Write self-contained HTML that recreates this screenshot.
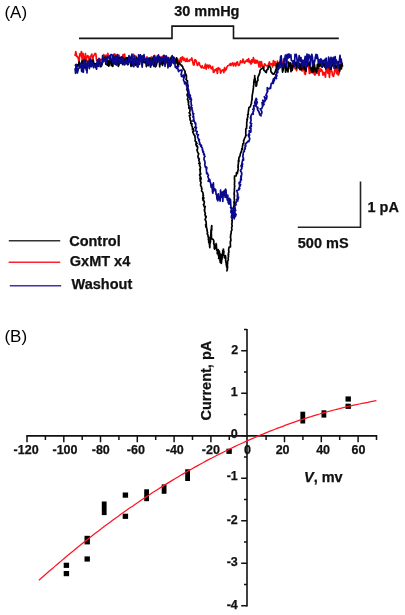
<!DOCTYPE html>
<html><head><meta charset="utf-8"><style>html,body{margin:0;padding:0;background:#fff;}svg{display:block;will-change:transform;}</style></head>
<body><svg width="405" height="615" viewBox="0 0 405 615">
<rect width="405" height="615" fill="#fff"/>
<g font-family="'Liberation Sans', sans-serif">
<text x="4.4" y="17.7" font-size="17">(A)</text>
<text x="4.4" y="341.6" font-size="17">(B)</text>
<g font-weight="bold" font-size="14.5" fill="#111" stroke="#111" stroke-width="0.25">
<text x="174.2" y="15.8">30 mmHg</text>
<text x="367.5" y="212.4">1 pA</text>
<text x="297.8" y="248.4">500 mS</text>
<text x="69.2" y="245.7">Control</text>
<text x="69.8" y="266">GxMT x4</text>
<text x="71.6" y="288.9">Washout</text>
<text x="304" y="481.7"><tspan font-style="italic">V</tspan>, mv</text>
<text transform="translate(211.3 420.5) rotate(-90)">Current, pA</text>
</g>
</g>
<path d="M79 38.4 H172 V26.1 H233.5 V38.4 H338.8" fill="none" stroke="#151515" stroke-width="1.6"/>
<path d="M360.5 181.5 V227.3 H297.8" fill="none" stroke="#222" stroke-width="1.6"/>
<path d="M8.8 240.8 H60.2" stroke="#333" stroke-width="1.4"/>
<path d="M8.6 262.3 H60.2" stroke="#ff2030" stroke-width="1.4"/>
<path d="M9.8 285.8 H61.2" stroke="#3c32aa" stroke-width="1.6"/>
<path d="M75 56 L75.8 51.6 L76.6 56.5 L77.4 56.3 L78.2 58.2 L79 62.1 L79.8 53.9 L80.6 55.8 L81.4 51.5 L82.2 60.1 L83 53.3 L83.8 60.4 L84.6 60.1 L85.4 53.6 L86.2 61.3 L87 56.5 L87.8 55.6 L88.6 57.2 L89.4 61.9 L90.2 56.4 L91 56.3 L91.8 54 L92.6 60.5 L93.4 56.5 L94.2 54.8 L95 53.4 L95.8 53.8 L96.6 60.4 L97.4 60.1 L98.2 61.8 L99 61.2 L99.8 59.1 L100.6 60.2 L101.4 59.4 L102.2 60.3 L103 60.2 L103.8 54.6 L104.6 60.3 L105.4 55.8 L106.2 55.2 L107 61.2 L107.8 53.3 L108.6 57.6 L109.4 56.1 L110.2 60.1 L111 58.5 L111.8 61.1 L112.6 61.3 L113.4 58.8 L114.2 53.9 L115 59.1 L115.8 54.3 L116.6 61.8 L117.4 60.9 L118.2 56.1 L119 55.1 L119.8 59.4 L120.6 59.9 L121.4 61.9 L122.2 58.8 L123 54.7 L123.8 59.7 L124.6 54.2 L125.4 60.9 L126.2 60.1 L127 60.3 L127.8 61 L128.6 58.5 L129.4 61.6 L130.2 59.1 L131 58 L131.8 57.1 L132.6 56.9 L133.4 54.2 L134.2 55.4 L135 60.5 L135.8 56 L136.6 59.4 L137.4 60.4 L138.2 59.8 L139 58.4 L139.8 56.8 L140.6 56.5 L141.4 55.8 L142.2 59.5 L143 59.8 L143.8 61.8 L144.6 57 L145.4 61.7 L146.2 61.6 L147 56.8 L147.8 61.9 L148.6 59.4 L149.4 62 L150.2 60.6 L151 57.3 L151.8 57 L152.6 58.9 L153.4 58.7 L154.2 55.3 L155 61.6 L155.8 59.2 L156.6 58.8 L157.4 60.9 L158.2 57.3 L159 57 L159.8 59.9 L160.6 57.4 L161.4 58.1 L162.2 56.3 L163 56.3 L163.8 58.5 L164.6 59.9 L165.4 63 L166.2 60.8 L167 59.2 L167.8 59.3 L168.6 58.1 L169.4 59.9 L170.2 63.4 L171 57.5 L171.8 59.8 L172.6 61.6 L173.4 62.2 L174.2 60.8 L175 61.5 L175.8 63.5 L176.6 63.2 L177.4 58.6 L178.2 60.6 L179 63.7 L179.8 60.4 L180.6 57.9 L181.4 61.9 L182.2 56.9 L183 57.5 L183.8 60.3 L184.6 58.3 L185.4 61.3 L186.2 61.3 L187 58.4 L187.8 61.5 L188.6 60.6 L189.4 61 L190.2 59.4 L191 59.8 L191.8 58 L192.6 61 L193.4 64.9 L194.2 64.9 L195 59.6 L195.8 60.1 L196.6 62 L197.4 65.5 L198.2 64.2 L199 62.5 L199.8 65.1 L200.6 66.4 L201.4 67.8 L202.2 65.7 L203 67.7 L203.8 68.1 L204.6 67.9 L205.4 64.2 L206.2 69.1 L207 65.2 L207.8 65 L208.6 68.1 L209.4 65.2 L210.2 65.8 L211 68.2 L211.8 68.8 L212.6 66.5 L213.4 72.5 L214.2 72 L215 69.6 L215.8 70.4 L216.6 68.7 L217.4 73.5 L218.2 67.6 L219 69 L219.8 68.6 L220.6 73.2 L221.4 70.9 L222.2 70.3 L223 69.8 L223.8 72.6 L224.6 67.5 L225.4 70.6 L226.2 69.4 L227 66.9 L227.8 65.7 L228.6 65.5 L229.4 65 L230.2 63.6 L231 65.5 L231.8 63.8 L232.6 62.8 L233.4 65.9 L234.2 63.4 L235 63.3 L235.8 65.9 L236.6 62.6 L237.4 61.8 L238.2 65.1 L239 65.4 L239.8 63.8 L240.6 60.8 L241.4 62.4 L242.2 62.6 L243 59.2 L243.8 61.9 L244.6 63.2 L245.4 61.2 L246.2 61.4 L247 59.8 L247.8 61.5 L248.6 58.6 L249.4 62.5 L250.2 61 L251 64.1 L251.8 59.8 L252.6 62.5 L253.4 57.7 L254.2 60.6 L255 63.2 L255.8 60 L256.6 62.9 L257.4 60.6 L258.2 62.3 L259 66.9 L259.8 61.7 L260.6 67.1 L261.4 61.6 L262.2 65.5 L263 67.1 L263.8 67 L264.6 63.8 L265.4 65 L266.2 65.7 L267 65.9 L267.8 65.6 L268.6 64.3 L269.4 61.9 L270.2 64.9 L271 63.9 L271.8 63.7 L272.6 67 L273.4 60.5 L274.2 65.4 L275 61.7 L275.8 64.9 L276.6 66.8 L277.4 61.1 L278.2 63.5 L279 63.1 L279.8 62.8 L280.6 59.4 L281.4 63.2 L282.2 65.3 L283 62.7 L283.8 58.6 L284.6 63.3 L285.4 59.5 L286.2 57.4 L287 62.7 L287.8 61.8 L288.6 63.2 L289.4 68.5 L290.2 64.8 L291 69.1 L291.8 63.4 L292.6 68 L293.4 61.3 L294.2 64 L295 68.5 L295.8 68.9 L296.6 70.7 L297.4 66.5 L298.2 65.7 L299 67 L299.8 69.3 L300.6 64.1 L301.4 67.9 L302.2 71 L303 65.7 L303.8 67.5 L304.6 73.6 L305.4 74.4 L306.2 67.1 L307 66.5 L307.8 65.9 L308.6 65.7 L309.4 73.4 L310.2 73 L311 67.9 L311.8 70.5 L312.6 72.8 L313.4 65.6 L314.2 74.4 L315 75 L315.8 67.9 L316.6 73.4 L317.4 73.4 L318.2 69.4 L319 75.5 L319.8 68.2 L320.6 71.1 L321.4 69.3 L322.2 70.8 L323 75.1 L323.8 72.4 L324.6 72.9 L325.4 77.2 L326.2 68.6 L327 68.6 L327.8 73.2 L328.6 67.9 L329.4 77.3 L330.2 70.1 L331 71.2 L331.8 71 L332.6 75.5 L333.4 76.4 L334.2 73.5 L335 67.5 L335.8 69.6 L336.6 73.6 L337.4 67.7 L338.2 75.2 L339 73.8 L339.8 64.9 L340.6 65.2 L341.4 62.3 L342.2 66.9" fill="none" stroke="#ff0a0a" stroke-width="1.7" stroke-linejoin="round"/><path d="M75 64.5 L75.7 65.6 L76.4 69.2 L77.1 64.7 L77.8 65.1 L78.5 65.9 L79.2 61.8 L79.9 65.1 L80.6 66.3 L81.3 67.9 L82 60.9 L82.7 63 L83.4 60.9 L84.1 68.1 L84.8 67 L85.5 60.4 L86.2 69.9 L86.9 69.7 L87.6 66.6 L88.3 66.2 L89 61.5 L89.7 60.1 L90.4 65.3 L91.1 60.5 L91.8 61.9 L92.5 62.4 L93.2 60.1 L93.9 64.2 L94.6 63.6 L95.3 67.3 L96 63.7 L96.7 64.6 L97.4 62.8 L98.1 64.1 L98.8 61.7 L99.5 59.5 L100.2 66.6 L100.9 66.6 L101.6 65 L102.3 63.6 L103 59.6 L103.7 58.7 L104.4 59.3 L105.1 57.1 L105.8 64.2 L106.5 60.5 L107.2 65.1 L107.9 60.3 L108.6 66.2 L109.3 65.1 L110 56.3 L110.7 58.5 L111.4 65.7 L112.1 61.2 L112.8 66.5 L113.5 60.4 L114.2 57.1 L114.9 62.8 L115.6 64.4 L116.3 59.1 L117 57.2 L117.7 59.8 L118.4 66.3 L119.1 64.2 L119.8 57.5 L120.5 58.9 L121.2 57.3 L121.9 56.9 L122.6 64.6 L123.3 58.1 L124 62.1 L124.7 60.9 L125.4 58.3 L126.1 63.9 L126.8 57.6 L127.5 63 L128.2 57.5 L128.9 60.7 L129.6 58.5 L130.3 59.1 L131 66.5 L131.7 64.7 L132.4 59.5 L133.1 65.6 L133.8 58.5 L134.5 60.4 L135.2 65.3 L135.9 63.1 L136.6 57.3 L137.3 66.8 L138 58.5 L138.7 59 L139.4 64.5 L140.1 59.8 L140.8 59.4 L141.5 57.1 L142.2 57.3 L142.9 62.5 L143.6 58.9 L144.3 62.7 L145 60.3 L145.7 61.2 L146.4 66.6 L147.1 61.5 L147.8 62.5 L148.5 65.6 L149.2 58.3 L149.9 58 L150.6 66.1 L151.3 65.1 L152 59 L152.7 58.4 L153.4 64.3 L154.1 66.5 L154.8 58.5 L155.5 66.6 L156.2 65.9 L156.9 62.9 L157.6 60.9 L158.3 57.5 L159 56.8 L159.7 66.8 L160.4 59 L161.1 64 L161.8 59.2 L162.5 65.4 L163.2 62.9 L163.9 59.6 L164.6 58.3 L165.3 64.3 L166 57.2 L166.7 58.9 L167.4 62.5 L168.1 65.7 L168.8 63.2 L169.5 59.5 L170.2 66.5 L170.9 58.7 L171.6 56.6 L172.3 59.4 L173 61.4 L173.7 57.1 L174.4 58.4 L175.1 60.5 L175.8 62.8 L176.5 57.9 L177.2 60.5 L177.9 66.3 L178.7 63.4 L179.3 63.4 L179.4 62.1 L180.2 64.6 L181.9 65.6 L181.4 65.6 L182.7 66.7 L183 68.3 L183 68.2 L184.4 70.2 L184.8 70.7 L185.2 72.3 L184.9 72.8 L186.1 74.4 L185.6 75.3 L186.5 75.8 L186.3 76.4 L186.5 78.1 L185.9 79.3 L187.6 81 L187.3 80.7 L187.4 82.2 L187 83.9 L186.6 84.7 L186.6 85.3 L187.4 85.3 L187.8 87 L187.8 89.1 L187.2 87.7 L187.3 90.5 L187.1 90.1 L188.2 92.4 L187.4 94 L187.3 94.4 L187 94.8 L188 97.1 L188.3 96.8 L188 97.7 L187.4 99.3 L188.7 101.3 L188.6 102.7 L188.1 101.7 L188.6 103.1 L188.4 104.6 L189.1 105.9 L188.8 107.9 L190 108 L188.7 108 L190 109.1 L189.9 111.6 L189.4 113.3 L189.1 112.7 L189.9 113.5 L190.5 115.1 L189.3 115.7 L190.1 117.8 L190 119.4 L190.7 121.3 L190.9 120.5 L191 121.6 L190.7 123.5 L192 123.9 L191.5 125.4 L192.4 127 L192.5 128.7 L192.4 129.7 L193.4 128.9 L193.7 131.5 L192.7 131.8 L193.7 134 L193.6 134.1 L194.7 135.7 L195 135.8 L194.9 136.1 L195.2 138.7 L195.4 139.4 L195 140.9 L196.5 142.1 L196.1 142.6 L196 143.9 L197 143.4 L195.9 144.6 L196.8 146.5 L196.9 145.5 L197.5 146.6 L197.7 147.9 L197.1 150.5 L196.9 149.8 L197.7 152.3 L198.3 153.2 L198.7 153.8 L198.8 153.8 L197.9 156 L198.1 157.7 L198.8 158.2 L199.3 159.4 L198.7 160 L199.7 162.5 L198.8 163.4 L200.1 163.6 L199.6 163.8 L199.6 165.7 L199.8 165.5 L200.5 167.8 L199.7 169.6 L200 169.9 L200.3 169.8 L200.1 171.8 L200.8 174.2 L199.8 174.1 L199.6 175.1 L200.8 177.4 L200.3 176.9 L199.9 178.8 L201.1 178.6 L201 179.4 L200.1 181 L201.1 182.2 L200.7 184 L200.5 185.3 L200.7 185.7 L201 185.9 L201.6 187.5 L201.5 188.4 L201.9 188.7 L201.6 191 L202.4 191.7 L202.9 193 L203.1 193 L203 195.5 L203.5 195.3 L202.7 197.9 L202.7 199.1 L203.9 197.9 L203 200.4 L203.2 199.8 L204.3 201.7 L204.4 201.9 L203.9 204.5 L203.4 204.4 L204.6 207.4 L205.2 206.4 L204.6 209.2 L204.8 210.2 L204.4 209.7 L204.4 210.7 L205.2 213 L205.3 213.2 L204.9 214.4 L206 217.6 L206.2 216.3 L205 219.7 L205.7 220.3 L205.6 220.6 L205.9 221.6 L206.1 221.6 L206.3 224.8 L205.5 224.9 L206.4 225.9 L206 227.2 L205.8 226.5 L206.4 226.9 L207 229.2 L207 230.2 L207.1 230.2 L207.2 231.3 L207.6 232.8 L207.2 233.9 L207.6 234.6 L207.9 234.7 L208.1 236.5 L208.2 237.1 L208.5 237.2 L208.6 237.4 L208.4 239 L208.4 239.6 L208.8 240.9 L208.7 242.4 L209.1 242 L209.2 243.3 L209.3 243.7 L209.6 245 L209.6 246.1 L209.9 245.4 L209.8 247.7 L209.6 246.2 L209.6 244.9 L209.8 243.9 L209.8 244.7 L210.1 243 L210.4 242.3 L210.5 241.6 L210.5 239.7 L210.4 240.2 L210.2 239.7 L210.3 237.9 L210.4 237.2 L210.7 235.5 L211 235.4 L210.8 234.9 L210.8 233.5 L211.1 233.2 L210.9 232.7 L211 230.5 L211.1 229.7 L211.1 230.3 L211.3 229.8 L211.6 227.3 L211.8 228.2 L211.4 227.3 L211.7 225.7 L211.9 226 L211.6 228.2 L211.7 228.1 L211.8 229.7 L211.6 229.1 L211.6 230.6 L211.3 230.7 L211.4 231.6 L211.3 233.6 L211.3 233.6 L211.4 234.7 L211.4 235.8 L211.5 237.5 L211.3 236.9 L211.6 238.9 L212.6 239.1 L212.9 239.1 L213.7 240.4 L213.7 241.4 L213.9 241.3 L213.7 243.7 L214.2 244.3 L213.8 243.4 L214 245 L214.3 245.1 L214.4 245.8 L214.2 247.9 L214.5 248.6 L214.5 249.1 L214.7 248 L215.2 248.1 L215.1 245.9 L215.8 246.1 L216 244.4 L216.1 243.7 L216.4 244.8 L216.4 246.8 L216.3 246.7 L216.7 248.3 L216.6 248 L216.6 249.9 L216.7 249.1 L217.1 250.7 L217.3 251.1 L217.4 251.5 L217.2 253.5 L217.2 253.6 L217.7 253.6 L217.5 251.6 L217.7 252 L217.8 249.9 L218 250 L218.3 249.9 L218.3 249.7 L218.3 250.2 L218.1 251.3 L218.6 253.1 L218.2 252.8 L218.4 253.6 L218.4 254.5 L218.4 255.7 L218.8 256.4 L218.9 257.3 L218.6 258.5 L219.1 256.7 L218.7 256.3 L219.1 255.6 L219.5 254.9 L219.5 252.8 L219.4 253.4 L219.3 251.2 L219.7 253.6 L219.3 253.9 L219.4 255 L219.8 254.8 L219.5 256.7 L219.8 257.5 L219.7 257.5 L220.1 259 L219.9 259.6 L220 260.7 L220.2 261 L220.2 262.3 L220.3 261.7 L220.4 261 L220.6 259.7 L220.4 258.9 L220.7 257.5 L220.6 256 L220.8 256.9 L220.7 254.3 L220.7 255.6 L220.8 257.5 L220.7 257 L220.8 258.5 L221.3 258.4 L221 259.7 L221.3 261.4 L221.1 260.6 L221.2 261.6 L221.3 263.4 L221.6 261.6 L221.5 260.9 L221.5 261.1 L221.7 259.8 L222.1 258.9 L221.8 258.9 L222.3 257 L222.1 257.4 L222.1 255.1 L222 255.7 L222.5 253.8 L222.5 253.2 L222.5 253.3 L222.9 251 L222.7 250.7 L223.1 250.5 L223.5 249.3 L223.3 249.2 L223.5 250.2 L223.9 251.5 L223.8 253.3 L223.7 253.2 L223.7 254.4 L223.7 255.3 L224.3 256.1 L224 255.8 L224.4 256.3 L224.4 257.8 L225.1 257.1 L225.4 255.6 L225.5 256.7 L225.7 256.9 L225.8 258 L225.7 259.5 L225.6 260.9 L225.8 260.8 L225.8 261.6 L226.2 263.3 L226.2 264.1 L226.2 264.3 L226.6 266.3 L226.9 266.5 L226.6 266.8 L227.1 267.4 L227.2 268.7 L227.3 269.6 L226.9 270.8 L227.6 267.6 L227.5 266.6 L227.4 265.9 L227.4 264.2 L227.6 263.7 L227.6 261.3 L228 260.4 L228.3 259.7 L228.2 257.9 L228.5 256 L228.1 254.7 L228.6 254.9 L228.4 252.9 L229 252.1 L228.6 250 L228.8 248.5 L229.1 247.1 L230.5 247 L230.3 246.3 L230.5 245.5 L230.3 243.1 L230.4 241.1 L230.5 241.6 L230.9 240.5 L230.8 238.9 L230.4 237 L230.7 236.5 L230.6 234.7 L230.9 234.4 L231.2 232.8 L231.1 231.7 L232 229.7 L231.7 228.4 L231.6 227.7 L232.2 226 L232.1 225.6 L231.8 224.6 L232.2 221.6 L231.8 220.5 L232.3 220.4 L232.2 219.7 L232.4 217.4 L232.4 217.4 L232.6 216.1 L233 214 L233.2 212.1 L233.6 212.7 L233.7 210.5 L233.4 209.9 L233.6 208.9 L233.7 206.8 L234.2 204.5 L234.1 202.9 L233.9 201.8 L234.6 202.4 L234.4 199.6 L234.4 199.4 L234.2 197.8 L234.5 195.1 L234.1 195 L234.1 193.5 L234.4 191.7 L234.4 190.7 L234.4 189.6 L234.5 187.6 L234.5 186.6 L234.8 186.4 L234.4 184.7 L234.5 184.1 L234.6 183 L234.5 182.3 L234.7 180.7 L234.4 178.4 L234.5 178.2 L234.5 176.1 L236.2 176 L236.5 172.7 L237.3 173.5 L237.7 171.5 L238.2 169.5 L238.2 167.7 L237.9 167.4 L238.3 166.1 L238 165.5 L238.5 163.2 L238.4 162.4 L238.4 160.4 L239 161.3 L238.9 159.8 L238.8 158.4 L239.2 157.1 L239.9 156.4 L240.1 155 L240.6 153.2 L241.6 150.8 L241.6 150.3 L241.9 148.5 L242.5 149.1 L242.4 146.8 L242.8 144.9 L242.6 145.7 L243 143.5 L243.7 143.5 L243.6 140.4 L243.7 140.9 L244.8 137.8 L245.4 136.9 L245.8 135.1 L246.1 135.6 L245.7 133.3 L245.8 132.4 L245.8 129.1 L246.4 128.3 L246.6 128.4 L246.6 125.4 L246.8 126.1 L246.7 122.8 L246.7 122.2 L247.2 120.7 L246.9 119.5 L247.4 119.6 L247.3 118.1 L247.9 116.6 L247.6 114.7 L248.4 114.3 L248.1 113 L248.2 112.5 L248.6 110.1 L248.9 107.7 L249.8 106.9 L250.3 106.9 L251 104.3 L251.6 103 L251.4 102.5 L251.4 102.1 L252.2 98.8 L251.9 99.3 L252 98.5 L252.2 95.5 L252.3 95.3 L252.4 94.1 L252.8 92.6 L252.8 92.1 L253.1 90.1 L253.4 88.1 L253.5 86.8 L253.5 85.8 L253.5 85.8 L253.9 84.6 L253.7 82.7 L253.9 81.6 L254.3 79 L254.6 79.4 L254.8 78.5 L254.7 75.5 L254.7 77.6 L255.2 78.8 L255.3 80.9 L255.3 82.5 L255.8 82.9 L256.2 83.5 L255.9 84.9 L256 86.3 L256.6 85.6 L256.6 84.5 L256.8 83.9 L257.1 81.4 L257.3 81.2 L258 80.2 L257.7 78.2 L258.2 76.5 L258.9 74.9 L258.8 75.4 L259.7 72.7 L259.8 72.9 L260 70.5 L261.1 69 L262.2 68.4 L263.6 66.9 L263.9 70.3 L264.9 70.9 L265 71 L265.7 72.2 L266.3 72.5 L266.9 69.8 L268 69.2 L268 67.7 L269.1 65.8 L269.6 66.4 L270.4 67.5 L270.8 68.6 L270.8 70.9 L271.2 72.1 L271.5 72.4 L272.7 73.9 L274 74.1 L274.3 73.5 L274.8 72.2 L275.6 71.6 L275.6 69.9 L276 71.5 L276.6 64.2 L277.2 66.2 L277.8 62.8 L278.4 69.6 L279 66 L279.6 65 L280.2 62.2 L280.8 64 L281.4 64.8 L282 66.3 L282.6 72.1 L283.2 69.8 L283.8 64.9 L284.4 65.9 L285 63.6 L285.6 72.2 L286.2 65.9 L286.8 70.3 L287.4 69.9 L288 71.9 L288.6 62.1 L289.2 65.4 L289.8 66.1 L290.4 62.8 L291 71.6 L291.6 65.5 L292.2 70.4 L292.8 67.6 L293.4 62.5 L294 66.2 L294.6 64.5 L295.2 62.3 L295.8 63.5 L296.4 68.4 L297 62.2 L297.6 65.3 L298.2 66.5 L298.8 67.8 L299.4 63.3 L300 69.6 L300.6 64.7 L301.2 69.8 L301.8 69.1 L302.4 63.4 L303 64.1 L303.6 64.9 L304.2 69.6 L304.8 66.2 L305.4 66 L306 71.3 L306.6 64.3 L307.2 65 L307.8 65.6 L308.4 64.1 L309 62.2 L309.6 62 L310.2 68.7 L310.8 68 L311.4 70.6 L312 72.5 L312.6 65 L313.2 69.1 L313.8 71.8 L314.4 64.1 L315 69.3 L315.6 69 L316.2 72.2 L316.8 71.2 L317.4 64.3 L318 68.6 L318.6 62.7 L319.2 66.4 L319.8 66 L320.4 62.3 L321 65.9 L321.6 65.3 L322.2 67.1 L322.8 64.7 L323.4 63.4 L324 66.1 L324.6 66.9 L325.2 63.5 L325.8 68.9 L326.4 64.3 L327 62.6 L327.6 65.4 L328.2 66.3 L328.8 63.3 L329.4 68 L330 69.3 L330.6 67.7 L331.2 69.3 L331.8 61.8 L332.4 65.9 L333 65.6 L333.6 62.3 L334.2 66 L334.8 62.2 L335.4 67 L336 68 L336.6 66.7 L337.2 65.1 L337.8 64.3 L338.4 61.8 L339 65.3 L339.6 71.3 L340.2 67.7 L340.8 64.4 L341.4 68.9 L342 63.6 L342.6 66.7" fill="none" stroke="#000" stroke-width="1.7" stroke-linejoin="round"/><path d="M75 68.2 L75.6 73.3 L76.2 64.4 L76.8 67.6 L77.4 73 L78 70.4 L78.6 68.3 L79.2 68.2 L79.8 65.1 L80.4 65.1 L81 63.1 L81.6 71.1 L82.2 71.8 L82.8 64.6 L83.4 72.2 L84 59.6 L84.6 61 L85.2 66.3 L85.8 63.4 L86.4 64.2 L87 73 L87.6 61.1 L88.2 61.7 L88.8 62.3 L89.4 68.7 L90 62.3 L90.6 59 L91.2 66.7 L91.8 64.5 L92.4 62.4 L93 65.9 L93.6 67.6 L94.2 65.6 L94.8 66.2 L95.4 64.8 L96 67.9 L96.6 69.2 L97.2 60.2 L97.8 59.8 L98.4 66.5 L99 58.4 L99.6 63.2 L100.2 62.5 L100.8 62.4 L101.4 66.1 L102 64.3 L102.6 55.6 L103.2 61.6 L103.8 59.9 L104.4 60.9 L105 58.4 L105.6 57.3 L106.2 63.3 L106.8 60.6 L107.4 56.7 L108 56.9 L108.6 57.9 L109.2 56 L109.8 60.3 L110.4 55.3 L111 54.5 L111.6 54.6 L112.2 55 L112.8 62.9 L113.4 55.2 L114 59.6 L114.6 63.8 L115.2 60 L115.8 55.9 L116.4 65 L117 65.1 L117.6 54.5 L118.2 57.1 L118.8 60.4 L119.4 64.2 L120 58.9 L120.6 63.2 L121.2 57.1 L121.8 63.2 L122.4 58.1 L123 58.2 L123.6 63.8 L124.2 64.9 L124.8 64.7 L125.4 61.3 L126 59.4 L126.6 63.1 L127.2 62.1 L127.8 64.8 L128.4 64.4 L129 55.6 L129.6 58.9 L130.2 62.7 L130.8 57 L131.4 56.4 L132 54.2 L132.6 61.7 L133.2 66.3 L133.8 66.7 L134.4 55.8 L135 63 L135.6 59.6 L136.2 62.3 L136.8 59.3 L137.4 66.3 L138 67 L138.6 54.8 L139.2 63.5 L139.8 55.8 L140.4 54.8 L141 58 L141.6 63.8 L142.2 67.2 L142.8 55.8 L143.4 58.6 L144 54.6 L144.6 61.4 L145.2 60.6 L145.8 59.2 L146.4 58.4 L147 64.8 L147.6 65.3 L148.2 58.1 L148.8 59.5 L149.4 62.5 L150 64.4 L150.6 67.2 L151.2 59.5 L151.8 63.5 L152.4 61.6 L153 64.9 L153.6 56.4 L154.2 56.8 L154.8 55.9 L155.4 66.7 L156 57.8 L156.6 60.9 L157.2 56.2 L157.8 58.8 L158.4 54.9 L159 62 L159.6 56.5 L160.2 62.8 L160.8 58.2 L161.4 57.6 L162 61 L162.6 59.5 L163.2 58.1 L163.8 55.4 L164.4 55.6 L165 66.4 L165.6 58.8 L166.2 55.8 L166.8 57.2 L167.4 61.1 L168 67.8 L168.6 57.5 L169.2 66.1 L169.8 61.2 L170.4 60.3 L171 65.4 L171.6 60.1 L172.2 55.7 L172.8 62.1 L173.4 63.5 L174 63.1 L174.6 58.6 L175.2 67.2 L175.8 66.2 L176.4 67.9 L176.5 68.5 L178.7 66.1 L176.6 66.9 L177.4 67.3 L178.6 71.6 L178.9 71.2 L178.2 70.5 L182.1 70.2 L181 75 L182.5 75.3 L181.5 76.4 L183.4 77 L184.2 74.4 L184.4 76.8 L183.7 76.9 L184.7 76.5 L183.8 78.4 L183.4 80 L184.9 83.1 L184.4 83.1 L184.9 82 L187.5 83.1 L184.9 83.9 L187.6 83.9 L188 86.4 L188.1 85.2 L186.4 85.7 L187.6 88 L186.7 89.2 L188.4 89.1 L189.1 93.3 L188.1 93.8 L188.7 94 L188.2 96.1 L189.8 94.5 L189.7 96 L189.4 95.2 L190.4 95.5 L189.7 98.2 L191.2 98.1 L189.8 99.2 L191.5 99.6 L190.9 101.4 L191.1 101.9 L191.2 105 L191.8 105.2 L191.3 106 L190.7 107.8 L192 107.6 L192.1 108.5 L191.8 108.9 L192.4 111 L192.4 110.2 L192.7 112.5 L192.8 114 L193.7 113.6 L192.9 117.2 L193.6 116.1 L193.8 119.2 L193.3 119.8 L192.9 121.2 L193.8 119.8 L194.7 122.1 L195.1 123.6 L195.1 123.6 L195.7 123.2 L195.7 126.2 L194.8 127.5 L195.4 127.6 L196.5 127.5 L195.6 130 L195.5 130.8 L197.2 131.6 L196.4 133.7 L197.9 134.7 L197.6 136.2 L198.4 134.8 L197.9 135.6 L197.6 137.4 L199.5 139.9 L198.4 138.8 L199.3 141.9 L200 143.1 L199.3 144.3 L199.9 144.2 L201.5 145.5 L200.6 146.3 L201.4 145.1 L201.5 147.2 L202.4 148.1 L202.7 150.5 L202.2 149.7 L203.6 151.9 L202.7 151.8 L204.5 154.4 L203.6 154 L205 156.6 L204.7 156.6 L204.1 157.7 L204 159.4 L204.6 161 L204.8 160.9 L205.1 163.4 L204.9 163.7 L204.8 164.3 L205.1 166.2 L205.3 167.1 L206.2 166.9 L206.8 167.6 L206.6 169.3 L206.2 168.6 L206.4 170.3 L206.7 173.5 L206.6 173.6 L207.6 173.2 L207.3 173.8 L208.5 175.2 L207.8 176.5 L208.9 179.1 L208.8 179.1 L208.2 181.3 L209.3 181 L209.8 179.6 L210.2 182.4 L210.7 183.1 L211.1 187.2 L211.6 187.5 L212 184.7 L212.5 192 L212.9 193.3 L213.4 182.8 L213.8 190.8 L214.3 189.5 L214.7 188.8 L215.2 190.7 L215.6 189.5 L216.1 194.4 L216.5 194.2 L217 199.2 L217.4 199.9 L217.9 200.8 L218.3 193.8 L218.8 199 L219.2 196.9 L219.7 197.6 L220.1 201.2 L220.6 190.1 L221 194.9 L221.5 194.2 L221.9 197.3 L222.4 192.1 L222.8 201.4 L223.3 191.9 L223.7 193.6 L224.2 190.6 L224.6 193.4 L225.1 197.4 L225.5 189.2 L226 190 L226.4 196.8 L226.9 197.6 L227.3 200.1 L227.8 195.2 L228.2 202.9 L228.7 202.9 L229.1 204.2 L229.6 198.3 L230 202.6 L230.5 199.5 L230.9 207.4 L232.5 208.4 L230.5 207.5 L231.7 209.2 L230.8 211.2 L231.3 211.2 L230.9 212.5 L231 211.8 L231.8 213.6 L232.5 214.5 L231.7 214.8 L231.3 217.3 L232.1 218.4 L232.9 216 L233.1 215.1 L233.6 215.4 L232.5 214.7 L233.7 214.9 L232.9 210.4 L232.6 212.2 L234 210.8 L233 211.2 L232.9 210.7 L233.7 214.8 L234.7 215.4 L233.6 214.9 L233.9 215.4 L234.2 218.8 L234.7 216.2 L235.4 216.6 L236.1 214.4 L235.1 214.6 L234.9 211.4 L235.7 210.2 L234.9 209.8 L235.2 208.5 L235.1 207.8 L234.6 208.2 L234.8 206.1 L236.1 204.6 L235.7 202.6 L236.2 202.3 L236.8 201 L237.8 201 L236.5 199.7 L238.6 197.2 L237.9 199.7 L237.4 197.4 L237.4 195.3 L238 195.3 L237.4 194 L237.8 193.9 L236.8 190.5 L237.6 190.2 L239.2 189.7 L239.7 188.6 L238.8 188.6 L238.7 188.7 L240.4 185.4 L239.4 186.1 L240.6 184.5 L239.1 183.9 L239.2 182.4 L240.4 182.5 L240.7 178.3 L241.4 179.9 L240.8 176.2 L241.2 176.7 L241.2 177.7 L241.8 173.5 L241.6 173.8 L241.6 172.6 L241 171.8 L240.4 170.4 L241.8 168.5 L240.7 170.2 L242 168.1 L241 165.5 L241.6 167.5 L242.4 166.3 L241.8 163.5 L242.7 164 L242 163 L242.9 159 L242.9 159.3 L243.6 160.2 L243.4 158.4 L243.3 157.7 L242.8 156.6 L243.1 155 L243.3 153 L243.4 151.9 L244.4 151.4 L244.1 150.5 L245.3 148.5 L244.8 147.9 L245.8 146.2 L245.6 144.9 L245 145.7 L246.1 143 L245.4 144.1 L246.9 142.7 L247.8 141.3 L248.9 141.6 L249.8 138.6 L248.9 136.6 L249.6 135 L248.7 136.6 L248.2 134.9 L249.4 133.2 L249.2 130.7 L250.9 132 L250.9 128.6 L250.9 128 L249.7 128.1 L250.6 125.5 L251 126.2 L251.4 126.4 L251 123.3 L251.6 123.6 L250.2 123 L251.2 119.9 L250.3 118 L251.1 117.8 L250.9 116.8 L250.8 116.7 L251.3 115 L251.6 114.8 L253.1 112.6 L253.3 114.1 L253 112 L253.6 110.9 L253.6 111.3 L254.1 108 L252.8 109.4 L253.8 107.9 L253.7 105.7 L254.3 105.7 L255.8 103.9 L255.2 102.3 L254.7 103.5 L254.7 102.5 L256.1 98.4 L256.8 99.5 L256.2 100.5 L257.3 102.2 L257.2 102.3 L256.9 103.3 L255.7 106.1 L257.9 107.5 L257.8 108.8 L257.2 107.3 L257.4 108.7 L257.8 110.3 L258.3 110.7 L259.2 112.5 L259.2 112.2 L259.7 114.9 L261.2 115.9 L259.6 113.8 L260.2 114.1 L261.6 114 L261.8 112.6 L261.8 111.5 L260.2 108.8 L261.8 108.5 L262.2 107.2 L263.2 104.4 L262.7 106.5 L262 102.5 L264.1 104.5 L262.7 100.2 L264.8 101.7 L264.6 100.4 L265.5 100.3 L264.3 96.7 L266.5 99 L267 96.1 L266.3 94.9 L265.9 95.4 L266.6 93.6 L267.4 91.7 L267.9 91 L267.2 91.5 L267.3 87.7 L268.5 88.9 L270.6 88.4 L269.9 88.5 L270.3 87 L270.8 87.2 L271.1 83.8 L271.7 83.1 L273.1 83.3 L273.7 81.9 L272.7 81.7 L273.5 78.7 L274.4 80.5 L274.8 77.3 L276.5 78.6 L275.7 74.5 L277 75.8 L276.4 74.9 L276.8 72.1 L277.7 72.7 L277.8 72 L277.2 69.9 L278.3 67.3 L279.7 66.6 L278.4 68.3 L280.3 67.5 L279.2 66.5 L279 64.8 L280 63 L280 67.2 L280.6 56.6 L281.2 55.8 L281.8 63.3 L282.4 66.1 L283 63.9 L283.6 66.9 L284.2 59.9 L284.8 58.7 L285.4 55.1 L286 57.2 L286.6 66.5 L287.2 54.3 L287.8 55.8 L288.4 58 L289 53.8 L289.6 57.3 L290.2 55.6 L290.8 54.8 L291.4 60.4 L292 60.7 L292.6 61.1 L293.2 63.8 L293.8 60.6 L294.4 66.5 L295 54.4 L295.6 56.4 L296.2 54.4 L296.8 57.7 L297.4 64 L298 66.3 L298.6 60.5 L299.2 55.7 L299.8 58.1 L300.4 61.4 L301 57.6 L301.6 64.6 L302.2 67.2 L302.8 60 L303.4 62.1 L304 65.5 L304.6 60.2 L305.2 56.4 L305.8 67 L306.4 67.5 L307 54.1 L307.6 64.5 L308.2 59.5 L308.8 54.6 L309.4 56.2 L310 56.4 L310.6 64.3 L311.2 57 L311.8 54.3 L312.4 57.1 L313 65.3 L313.6 61.1 L314.2 63.3 L314.8 60.7 L315.4 56.8 L316 54.4 L316.6 58.5 L317.2 54.9 L317.8 58 L318.4 63 L319 59.5 L319.6 61 L320.2 63.2 L320.8 58.9 L321.4 59.5 L322 66.9 L322.6 62.7 L323.2 60.4 L323.8 62.2 L324.4 61.1 L325 59.3 L325.6 67.5 L326.2 58 L326.8 67.8 L327.4 66.7 L328 67.1 L328.6 57.1 L329.2 62 L329.8 68.7 L330.4 58.9 L331 57.3 L331.6 65.1 L332.2 58.3 L332.8 63.2 L333.4 57.3 L334 68.3 L334.6 59.1 L335.2 56.5 L335.8 64.8 L336.4 60 L337 63 L337.6 62.2 L338.2 68.2 L338.8 62.5 L339.4 60.6 L340 55.4 L340.6 62.3 L341.2 59.2 L341.8 63.5 L342.4 64.3" fill="none" stroke="#0c0a8c" stroke-width="1.7" stroke-linejoin="round"/>
<path d="M26.3 435.9 H377.2" stroke="#111" stroke-width="1.6" fill="none"/><path d="M247 328.9 V606.5" stroke="#111" stroke-width="1.6" fill="none"/><path d="M27 435.8 V442.3 M45.4 435.8 V440 M63.8 435.8 V442.3 M82.2 435.8 V440 M100.5 435.8 V442.3 M118.9 435.8 V440 M137.3 435.8 V442.3 M155.7 435.8 V440 M174.1 435.8 V442.3 M192.5 435.8 V440 M210.9 435.8 V442.3 M229.3 435.8 V440 M266.1 435.8 V440 M284.5 435.8 V442.3 M302.9 435.8 V440 M321.3 435.8 V442.3 M339.7 435.8 V440 M358.1 435.8 V442.3 M376.5 435.8 V440 M247 605.8 H241.2 M247 584.5 H244 M247 563.3 H241.2 M247 542 H244 M247 520.8 H241.2 M247 499.6 H244 M247 478.3 H241.2 M247 457.1 H244 M247 435.8 H241.2 M247 414.6 H244 M247 393.3 H241.2 M247 372.1 H244 M247 350.8 H241.2 M247 329.6 H244" stroke="#111" stroke-width="1.5" fill="none"/>
<g font-family="'Liberation Sans', sans-serif" font-weight="bold" font-size="12.5" fill="#111" stroke="#111" stroke-width="0.25"><text x="26.1" y="454.2" text-anchor="middle">-120</text><text x="65" y="454.2" text-anchor="middle">-100</text><text x="100.8" y="454.2" text-anchor="middle">-80</text><text x="135.9" y="454.2" text-anchor="middle">-60</text><text x="174.8" y="454.2" text-anchor="middle">-40</text><text x="210.9" y="454.2" text-anchor="middle">-20</text><text x="247.4" y="454.2" text-anchor="middle">0</text><text x="282.6" y="454.2" text-anchor="middle">20</text><text x="323.1" y="454.2" text-anchor="middle">40</text><text x="358.4" y="454.2" text-anchor="middle">60</text><text x="237.8" y="608.8" text-anchor="end">-4</text><text x="237.8" y="566.3" text-anchor="end">-3</text><text x="237.8" y="524.4" text-anchor="end">-2</text><text x="237.8" y="480.2" text-anchor="end">-1</text><text x="237.8" y="438.2" text-anchor="end">0</text><text x="237.8" y="396.1" text-anchor="end">1</text><text x="238.3" y="354.4" text-anchor="end">2</text></g>
<g fill="#000"><rect x="63.7" y="562.7" width="5.4" height="5.2"/><rect x="63.7" y="571" width="5.4" height="5.2"/><rect x="84.5" y="535.8" width="5.4" height="8.6"/><rect x="84.5" y="556.4" width="5.4" height="5.2"/><rect x="101.8" y="501.5" width="4.8" height="13.6"/><rect x="122.7" y="492.5" width="5.4" height="5.2"/><rect x="122.7" y="513.7" width="5.4" height="5.2"/><rect x="144.2" y="489.3" width="4.8" height="11.9"/><rect x="161.7" y="484.4" width="4.8" height="9.4"/><rect x="185.2" y="469.3" width="4.8" height="11.7"/><rect x="226.4" y="448.7" width="5.4" height="5.2"/><rect x="300.4" y="411.7" width="4.8" height="11.8"/><rect x="321.5" y="410.3" width="4.8" height="7.3"/><rect x="345.5" y="396.4" width="5.4" height="5.2"/><rect x="345.5" y="403.7" width="5.4" height="5.2"/></g>
<path d="M38.9 580.3 L41.7 577.8 L44.6 575.3 L47.4 572.8 L50.2 570.3 L53.1 567.9 L55.9 565.4 L58.8 563 L61.6 560.6 L64.4 558.2 L67.3 555.8 L70.1 553.5 L72.9 551.2 L75.8 548.8 L78.6 546.6 L81.4 544.3 L84.3 542 L87.1 539.8 L90 537.5 L92.8 535.3 L95.6 533.1 L98.5 530.9 L101.3 528.8 L104.1 526.6 L107 524.5 L109.8 522.4 L112.6 520.3 L115.5 518.2 L118.3 516.2 L121.1 514.1 L124 512.1 L126.8 510.1 L129.7 508.1 L132.5 506.2 L135.3 504.2 L138.2 502.3 L141 500.3 L143.8 498.4 L146.7 496.6 L149.5 494.7 L152.3 492.8 L155.2 491 L158 489.2 L160.9 487.4 L163.7 485.6 L166.5 483.9 L169.4 482.1 L172.2 480.4 L175 478.7 L177.9 477 L180.7 475.3 L183.5 473.6 L186.4 472 L189.2 470.4 L192.1 468.7 L194.9 467.1 L197.7 465.6 L200.6 464 L203.4 462.5 L206.2 460.9 L209.1 459.4 L211.9 458 L214.7 456.5 L217.6 455 L220.4 453.6 L223.2 452.2 L226.1 450.8 L228.9 449.4 L231.8 448 L234.6 446.6 L237.4 445.3 L240.3 444 L243.1 442.7 L245.9 441.4 L248.8 440.1 L251.6 438.9 L254.4 437.7 L257.3 436.4 L260.1 435.2 L263 434.1 L265.8 432.9 L268.6 431.7 L271.5 430.6 L274.3 429.5 L277.1 428.4 L280 427.3 L282.8 426.3 L285.6 425.2 L288.5 424.2 L291.3 423.2 L294.2 422.2 L297 421.2 L299.8 420.2 L302.7 419.3 L305.5 418.4 L308.3 417.4 L311.2 416.6 L314 415.7 L316.8 414.8 L319.7 414 L322.5 413.1 L325.3 412.3 L328.2 411.5 L331 410.8 L333.9 410 L336.7 409.3 L339.5 408.6 L342.4 407.8 L345.2 407.2 L348 406.5 L350.9 405.8 L353.7 405.2 L356.5 404.6 L359.4 404 L362.2 403.4 L365.1 402.8 L367.9 402.3 L370.7 401.7 L373.6 401.2 L376.4 400.7" fill="none" stroke="#ff1424" stroke-width="1.25" stroke-linejoin="round"/>
</svg></body></html>
